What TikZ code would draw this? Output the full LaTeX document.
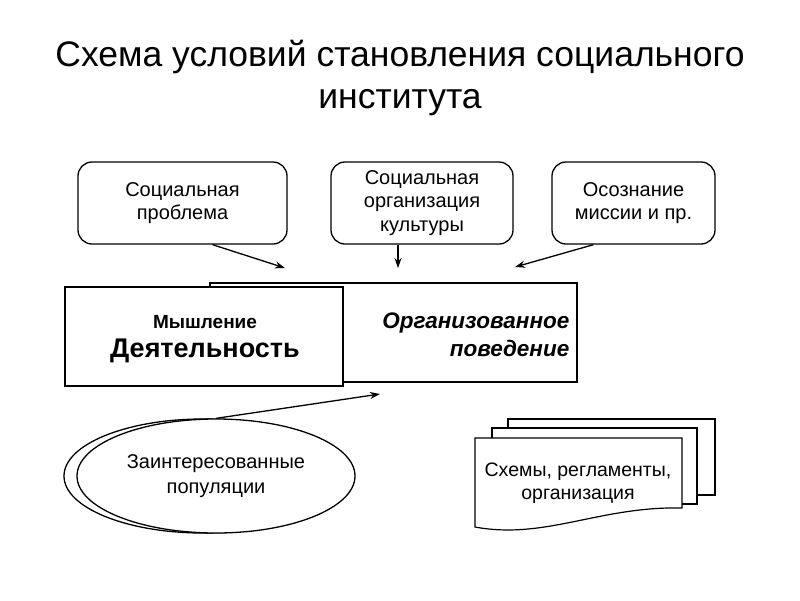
\documentclass[tikz,border=0pt]{standalone}
\usepackage{fontspec}
\setmainfont{Liberation Sans}
\usetikzlibrary{arrows.meta,shapes.geometric}
\begin{document}
\begin{tikzpicture}[x=1pt,y=-1pt,line width=1.3pt,
  arr/.style={-{Stealth[length=10pt,width=7pt]},line width=1.3pt},
  topbox/.style={draw,rounded corners=14pt,align=center,inner sep=0pt,minimum height=82pt,
    font=\fontsize{20}{23.5}\selectfont},
  plainbox/.style={draw,fill=white,inner sep=0pt,line width=1.4pt},
  titletext/.style={anchor=base,font=\fontsize{35.5}{42}\selectfont},
  doc/.style={draw,fill=white,line width=1.2pt}]
\useasboundingbox (0,0) rectangle (800,600);
% title
\node[titletext] (title1) at (400,66) {Схема условий становления социального};
\node[titletext] (title2) at (400,108) {института};
% top boxes
\node[topbox,minimum width=209pt] (b1) at (182.5,203) {Социальная\\проблема};
\node[topbox,minimum width=182pt] (b2) at (422,203) {Социальная\\организация\\культуры};
\node[topbox,minimum width=163pt] (b3) at (633.5,203) {Осознание\\миссии и пр.};
\coordinate (t1) at (285,268);
\coordinate (t2) at (398,268);
\coordinate (t3) at (515,267);
\draw[arr] ([xshift=30pt]b1.south) -- (t1);
\draw[arr] ([xshift=-24pt]b2.south) -- (t2);
\draw[arr] ([xshift=-40pt]b3.south) -- (t3);
% central rectangles
\node[plainbox,minimum width=367pt,minimum height=99pt] (back) at (393.5,332.5) {};
\node[plainbox,minimum width=278pt,minimum height=99pt] (front) at (204,336.5) {};
\node[font=\bfseries\fontsize{19}{22}\selectfont] (m) at (205,322) {Мышление};
\node[font=\bfseries\fontsize{27}{30}\selectfont] (d) at (205,351) {Деятельность};
\node[anchor=east,align=right,inner sep=0pt,font=\bfseries\itshape\fontsize{22.5}{28}\selectfont] (ob) at (570,335)
  {Организованное\\поведение};
% ellipses
\node[ellipse,draw,inner sep=0pt,minimum width=278pt,minimum height=114pt] (pop2) at (203,476) {};
\node[ellipse,draw,fill=white,inner sep=0pt,minimum width=278pt,minimum height=114pt,
  align=center,font=\fontsize{20}{25}\selectfont] (pop) at (216,476) {Заинтересованные\\популяции};
\coordinate (t4) at (380,394);
\draw[arr] (pop.north) -- (t4);
% document stack
\draw[doc] (508,419) rectangle (715,495);
\draw[doc] (492,428) rectangle (697,504);
\draw[doc] (475,438) -- (682,438) -- (682,508) .. controls (600,506) and (545,540) .. (475,527) -- cycle;
\node[align=center,font=\fontsize{19.5}{23}\selectfont] (docs) at (578,483) {Схемы, регламенты,\\организация};
\end{tikzpicture}
\end{document}
